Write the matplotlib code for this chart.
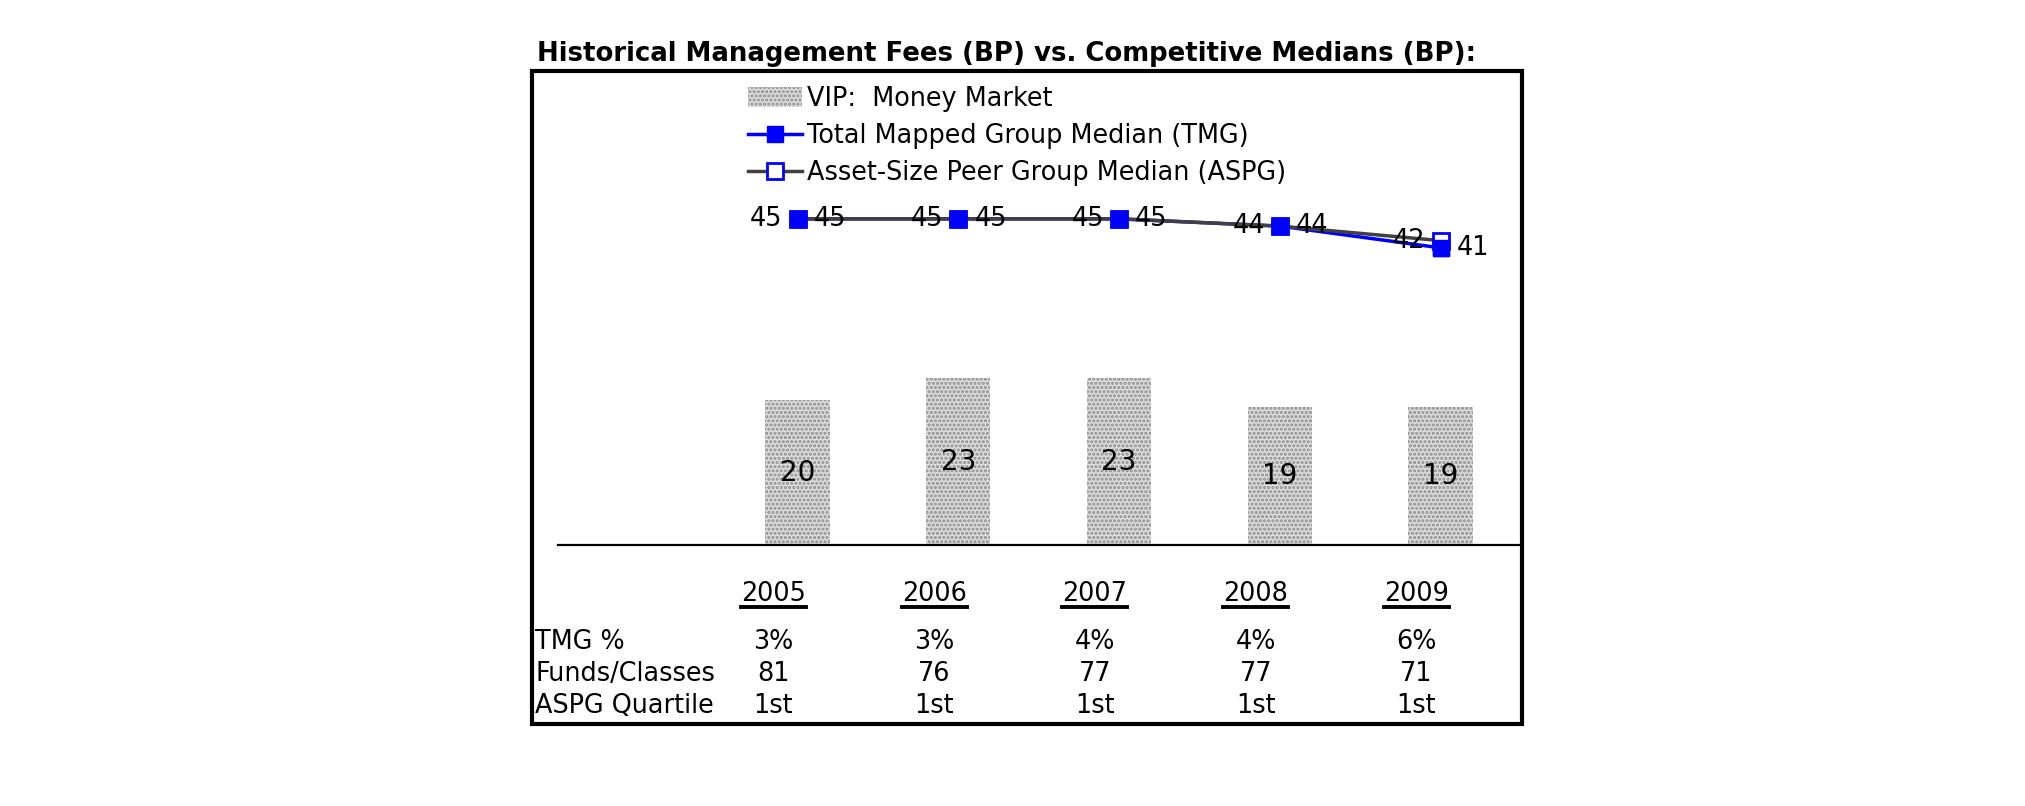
#!/usr/bin/env python3

import matplotlib
matplotlib.use('Agg')
import matplotlib.pyplot as plt
from matplotlib.patches import Rectangle
from matplotlib.lines import Line2D
import numpy as np

# chart data
years = ['2005', '2006', '2007', '2008', '2009']
vip_fees = [20, 23, 23, 19, 19]           # VIP: Money Market (bars)
tmg_median = [45, 45, 45, 44, 41]         # Total Mapped Group Median
aspg_median = [45, 45, 45, 44, 42]        # Asset-Size Peer Group Median
tmg_pct = ['3%', '3%', '4%', '4%', '6%']
funds_classes = ['81', '76', '77', '77', '71']
aspg_quartile = ['1st', '1st', '1st', '1st', '1st']

row_names = ['TMG %', 'Funds/Classes', 'ASPG Quartile']
row_values = [tmg_pct, funds_classes, aspg_quartile]

W, H = 2025, 806
FS = 18.4
plt.rcParams['font.family'] = ['DejaVu Sans']
plt.rcParams['hatch.linewidth'] = 1.5

fig = plt.figure(figsize=(W / 100., H / 100.), dpi=100)


def fx(px):
    return px / W


def fy(py):
    return 1 - py / H


# plot area in pixels: baseline at y=545, from x=558 to the box edge
ax = fig.add_axes([fx(558), fy(545), fx(1522 - 558), (545 - 71) / H])
x = np.arange(len(years))
ax.set_xlim(-1.49, 4.507)
ax.set_ylim(0, 65.4)
for s in ['top', 'right', 'left']:
    ax.spines[s].set_visible(False)
ax.spines['bottom'].set_linewidth(1.6)
ax.set_xticks([])
ax.set_yticks([])
ax.patch.set_visible(False)

bars = ax.bar(x, vip_fees, width=0.4, color='#dcdcdc', edgecolor='#8c8c8c',
              hatch='....', linewidth=0, label='VIP:  Money Market', zorder=1)
for xi, v in zip(x, vip_fees):
    ax.text(xi, v / 2., str(v), ha='center', va='center', fontsize=20, zorder=2)

# lines: keep TMG squares solid on top
tmg_handle, = ax.plot(x, tmg_median, color='#0000ff', lw=2.5, marker='s', ms=11,
                      mfc='#0000ff', mec='#0000ff', zorder=3,
                      label='Total Mapped Group Median (TMG)')
aspg_handle, = ax.plot(x, aspg_median, color='#404040', lw=2.5, marker='s', ms=11,
                       mfc='white', mec='#0000ff', mew=2, zorder=4,
                       label='Asset-Size Peer Group Median (ASPG)')
ax.plot(x, tmg_median, ls='none', marker='s', ms=11, mfc='#0000ff', mec='#0000ff',
        zorder=5)

for xi, a, t in zip(x, aspg_median, tmg_median):
    ax.annotate(str(a), (xi, a), xytext=(-15, 0), textcoords='offset pixels',
                ha='right', va='center', fontsize=FS, zorder=6)
    ax.annotate(str(t), (xi, t), xytext=(16, 0), textcoords='offset pixels',
                ha='left', va='center', fontsize=FS, zorder=6)

leg = fig.legend(handles=[bars, tmg_handle, aspg_handle],
                 loc='upper left', bbox_to_anchor=(fx(748), fy(86)),
                 frameon=False, fontsize=FS, borderpad=0, borderaxespad=0,
                 handlelength=2.1, handletextpad=0.22, labelspacing=0.44,
                 handleheight=0.85)

# title and frame
fig.text(fx(537), fy(54), 'Historical Management Fees (BP) vs. Competitive Medians (BP):',
         fontsize=18.7, fontweight='bold', ha='left', va='center')
fig.add_artist(Rectangle((fx(532), fy(724)), fx(1522 - 532), (724 - 71) / H,
                         transform=fig.transFigure, fill=False, lw=3, ec='black'))

# year headers and table below the plot (x in data units, y in figure pixels)
tr = matplotlib.transforms.blended_transform_factory(ax.transData, fig.transFigure)
shift = -0.15
year_texts = []
for xi, yr in zip(x, years):
    year_texts.append(ax.text(xi + shift, fy(594), yr, transform=tr,
                              ha='center', va='center', fontsize=FS))

row_y = [642, 674, 706]
for name, vals, py in zip(row_names, row_values, row_y):
    fig.text(fx(535), fy(py), name, ha='left', va='center', fontsize=FS)
    for xi, v in zip(x, vals):
        ax.text(xi + shift, fy(py), v, transform=tr, ha='center', va='center',
                fontsize=FS)

# underline the year headers using their rendered extents
fig.canvas.draw()
renderer = fig.canvas.get_renderer()
for t in year_texts:
    bb = t.get_window_extent(renderer)
    yline = bb.y0
    fig.add_artist(Line2D([bb.x0, bb.x1], [yline, yline], transform=None,
                          color='black', lw=2.8))

plt.savefig('out.png', dpi=100)
